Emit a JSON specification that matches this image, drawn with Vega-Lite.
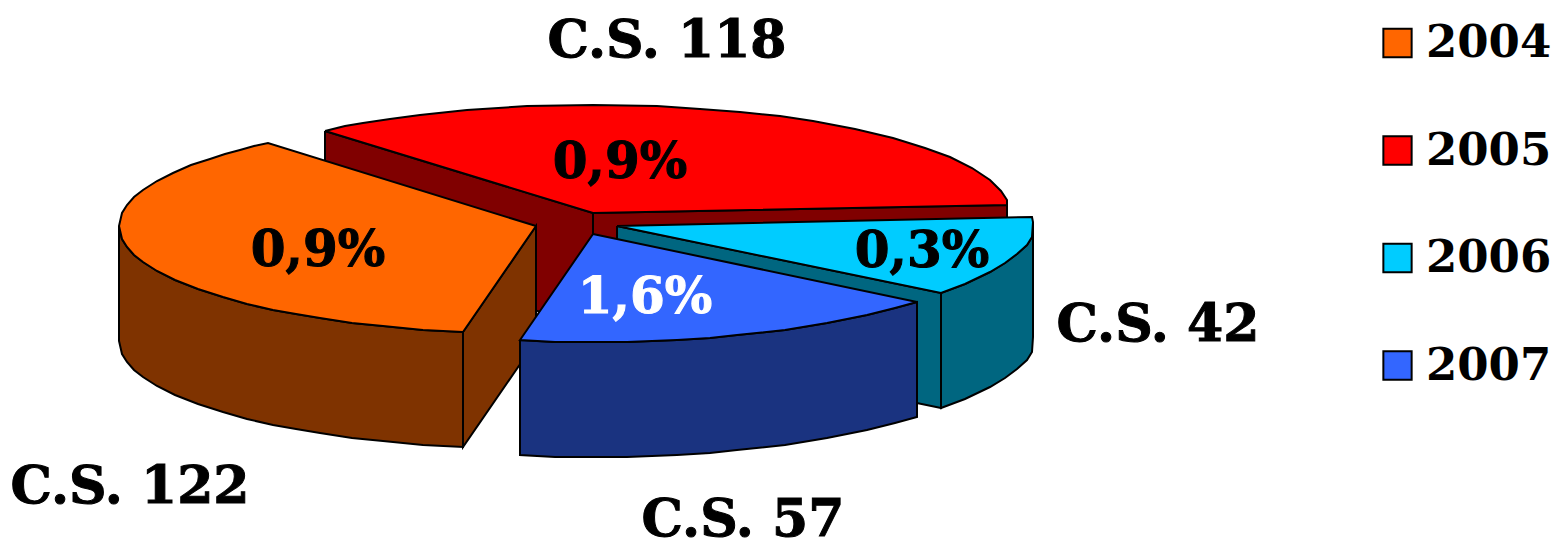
{
"$schema":"https://vega.github.io/schema/vega-lite/v6.json",
"width":1559,"height":548,"padding":0,"autosize":{"type":"none"},
"background":"white",
"view":{"stroke":null},
"datasets":{
"outline":[
{"piece":"red-left","i":0,"x":325,"y":131},{"piece":"red-left","i":1,"x":593,"y":213},{"piece":"red-left","i":2,"x":593,"y":328},{"piece":"red-left","i":3,"x":325,"y":246},{"piece":"red-left","i":4,"x":325,"y":131},
{"piece":"red-right","i":0,"x":593,"y":213},{"piece":"red-right","i":1,"x":1007,"y":205},{"piece":"red-right","i":2,"x":1007,"y":320},{"piece":"red-right","i":3,"x":593,"y":328},{"piece":"red-right","i":4,"x":593,"y":213},
{"piece":"red-top","year":"2005","i":0,"x":325,"y":131},{"piece":"red-top","year":"2005","i":1,"x":345,"y":126},{"piece":"red-top","year":"2005","i":2,"x":363,"y":123},{"piece":"red-top","year":"2005","i":3,"x":390,"y":119},{"piece":"red-top","year":"2005","i":4,"x":420,"y":115},{"piece":"red-top","year":"2005","i":5,"x":467,"y":110},{"piece":"red-top","year":"2005","i":6,"x":527,"y":106},{"piece":"red-top","year":"2005","i":7,"x":593,"y":105},{"piece":"red-top","year":"2005","i":8,"x":657,"y":106},{"piece":"red-top","year":"2005","i":9,"x":700,"y":109},{"piece":"red-top","year":"2005","i":10,"x":740,"y":112},{"piece":"red-top","year":"2005","i":11,"x":780,"y":116},{"piece":"red-top","year":"2005","i":12,"x":813,"y":121},{"piece":"red-top","year":"2005","i":13,"x":855,"y":129},{"piece":"red-top","year":"2005","i":14,"x":893,"y":138},{"piece":"red-top","year":"2005","i":15,"x":925,"y":148},{"piece":"red-top","year":"2005","i":16,"x":950,"y":157},{"piece":"red-top","year":"2005","i":17,"x":972,"y":168},{"piece":"red-top","year":"2005","i":18,"x":990,"y":180},{"piece":"red-top","year":"2005","i":19,"x":1001,"y":191},{"piece":"red-top","year":"2005","i":20,"x":1007,"y":200},{"piece":"red-top","year":"2005","i":21,"x":1007,"y":205},{"piece":"red-top","year":"2005","i":22,"x":593,"y":213},{"piece":"red-top","year":"2005","i":23,"x":325,"y":131},
{"piece":"cyan-strip","i":0,"x":617,"y":226},{"piece":"cyan-strip","i":1,"x":941,"y":293},{"piece":"cyan-strip","i":2,"x":941,"y":408},{"piece":"cyan-strip","i":3,"x":617,"y":341},{"piece":"cyan-strip","i":4,"x":617,"y":226},
{"piece":"cyan-outer","i":0,"x":941,"y":293},{"piece":"cyan-outer","i":1,"x":965,"y":284},{"piece":"cyan-outer","i":2,"x":990,"y":272},{"piece":"cyan-outer","i":3,"x":1005,"y":263},{"piece":"cyan-outer","i":4,"x":1017,"y":254},{"piece":"cyan-outer","i":5,"x":1027,"y":245},{"piece":"cyan-outer","i":6,"x":1032,"y":237},{"piece":"cyan-outer","i":7,"x":1033,"y":222},{"piece":"cyan-outer","i":8,"x":1033,"y":337},{"piece":"cyan-outer","i":9,"x":1032,"y":352},{"piece":"cyan-outer","i":10,"x":1027,"y":360},{"piece":"cyan-outer","i":11,"x":1017,"y":369},{"piece":"cyan-outer","i":12,"x":1005,"y":378},{"piece":"cyan-outer","i":13,"x":990,"y":387},{"piece":"cyan-outer","i":14,"x":965,"y":399},{"piece":"cyan-outer","i":15,"x":941,"y":408},{"piece":"cyan-outer","i":16,"x":941,"y":293},
{"piece":"cyan-top","year":"2006","i":0,"x":617,"y":226},{"piece":"cyan-top","year":"2006","i":1,"x":1032,"y":217},{"piece":"cyan-top","year":"2006","i":2,"x":1033,"y":222},{"piece":"cyan-top","year":"2006","i":3,"x":1032,"y":237},{"piece":"cyan-top","year":"2006","i":4,"x":1027,"y":245},{"piece":"cyan-top","year":"2006","i":5,"x":1017,"y":254},{"piece":"cyan-top","year":"2006","i":6,"x":1005,"y":263},{"piece":"cyan-top","year":"2006","i":7,"x":990,"y":272},{"piece":"cyan-top","year":"2006","i":8,"x":965,"y":284},{"piece":"cyan-top","year":"2006","i":9,"x":941,"y":293},{"piece":"cyan-top","year":"2006","i":10,"x":617,"y":226},
{"piece":"orange-right","i":0,"x":463,"y":332},{"piece":"orange-right","i":1,"x":536,"y":226},{"piece":"orange-right","i":2,"x":536,"y":341},{"piece":"orange-right","i":3,"x":463,"y":447},{"piece":"orange-right","i":4,"x":463,"y":332},
{"piece":"orange-outer","i":0,"x":119,"y":226},{"piece":"orange-outer","i":1,"x":122,"y":239},{"piece":"orange-outer","i":2,"x":127,"y":247},{"piece":"orange-outer","i":3,"x":134,"y":255},{"piece":"orange-outer","i":4,"x":143,"y":262},{"piece":"orange-outer","i":5,"x":157,"y":271},{"piece":"orange-outer","i":6,"x":175,"y":280},{"piece":"orange-outer","i":7,"x":198,"y":289},{"piece":"orange-outer","i":8,"x":223,"y":297},{"piece":"orange-outer","i":9,"x":247,"y":304},{"piece":"orange-outer","i":10,"x":273,"y":310},{"piece":"orange-outer","i":11,"x":296,"y":314},{"piece":"orange-outer","i":12,"x":320,"y":318},{"piece":"orange-outer","i":13,"x":352,"y":323},{"piece":"orange-outer","i":14,"x":383,"y":326},{"piece":"orange-outer","i":15,"x":423,"y":330},{"piece":"orange-outer","i":16,"x":463,"y":332},{"piece":"orange-outer","i":17,"x":463,"y":447},{"piece":"orange-outer","i":18,"x":423,"y":445},{"piece":"orange-outer","i":19,"x":383,"y":441},{"piece":"orange-outer","i":20,"x":352,"y":438},{"piece":"orange-outer","i":21,"x":320,"y":433},{"piece":"orange-outer","i":22,"x":296,"y":429},{"piece":"orange-outer","i":23,"x":273,"y":425},{"piece":"orange-outer","i":24,"x":247,"y":419},{"piece":"orange-outer","i":25,"x":223,"y":412},{"piece":"orange-outer","i":26,"x":198,"y":404},{"piece":"orange-outer","i":27,"x":175,"y":395},{"piece":"orange-outer","i":28,"x":157,"y":386},{"piece":"orange-outer","i":29,"x":143,"y":377},{"piece":"orange-outer","i":30,"x":134,"y":370},{"piece":"orange-outer","i":31,"x":127,"y":362},{"piece":"orange-outer","i":32,"x":122,"y":354},{"piece":"orange-outer","i":33,"x":119,"y":341},{"piece":"orange-outer","i":34,"x":119,"y":226},
{"piece":"orange-top","year":"2004","i":0,"x":536,"y":226},{"piece":"orange-top","year":"2004","i":1,"x":268,"y":143},{"piece":"orange-top","year":"2004","i":2,"x":254,"y":146},{"piece":"orange-top","year":"2004","i":3,"x":240,"y":150},{"piece":"orange-top","year":"2004","i":4,"x":225,"y":154},{"piece":"orange-top","year":"2004","i":5,"x":210,"y":159},{"piece":"orange-top","year":"2004","i":6,"x":191,"y":165},{"piece":"orange-top","year":"2004","i":7,"x":173,"y":173},{"piece":"orange-top","year":"2004","i":8,"x":157,"y":181},{"piece":"orange-top","year":"2004","i":9,"x":143,"y":190},{"piece":"orange-top","year":"2004","i":10,"x":134,"y":197},{"piece":"orange-top","year":"2004","i":11,"x":127,"y":205},{"piece":"orange-top","year":"2004","i":12,"x":122,"y":213},{"piece":"orange-top","year":"2004","i":13,"x":119,"y":226},{"piece":"orange-top","year":"2004","i":14,"x":122,"y":239},{"piece":"orange-top","year":"2004","i":15,"x":127,"y":247},{"piece":"orange-top","year":"2004","i":16,"x":134,"y":255},{"piece":"orange-top","year":"2004","i":17,"x":143,"y":262},{"piece":"orange-top","year":"2004","i":18,"x":157,"y":271},{"piece":"orange-top","year":"2004","i":19,"x":175,"y":280},{"piece":"orange-top","year":"2004","i":20,"x":198,"y":289},{"piece":"orange-top","year":"2004","i":21,"x":223,"y":297},{"piece":"orange-top","year":"2004","i":22,"x":247,"y":304},{"piece":"orange-top","year":"2004","i":23,"x":273,"y":310},{"piece":"orange-top","year":"2004","i":24,"x":296,"y":314},{"piece":"orange-top","year":"2004","i":25,"x":320,"y":318},{"piece":"orange-top","year":"2004","i":26,"x":352,"y":323},{"piece":"orange-top","year":"2004","i":27,"x":383,"y":326},{"piece":"orange-top","year":"2004","i":28,"x":423,"y":330},{"piece":"orange-top","year":"2004","i":29,"x":463,"y":332},{"piece":"orange-top","year":"2004","i":30,"x":536,"y":226},
{"piece":"blue-outer","i":0,"x":520,"y":340},{"piece":"blue-outer","i":1,"x":555,"y":342},{"piece":"blue-outer","i":2,"x":593,"y":342},{"piece":"blue-outer","i":3,"x":627,"y":342},{"piece":"blue-outer","i":4,"x":677,"y":340},{"piece":"blue-outer","i":5,"x":710,"y":338},{"piece":"blue-outer","i":6,"x":737,"y":335},{"piece":"blue-outer","i":7,"x":785,"y":330},{"piece":"blue-outer","i":8,"x":827,"y":323},{"piece":"blue-outer","i":9,"x":867,"y":315},{"piece":"blue-outer","i":10,"x":895,"y":308},{"piece":"blue-outer","i":11,"x":917,"y":302},{"piece":"blue-outer","i":12,"x":917,"y":417},{"piece":"blue-outer","i":13,"x":895,"y":423},{"piece":"blue-outer","i":14,"x":867,"y":430},{"piece":"blue-outer","i":15,"x":827,"y":438},{"piece":"blue-outer","i":16,"x":785,"y":445},{"piece":"blue-outer","i":17,"x":737,"y":450},{"piece":"blue-outer","i":18,"x":710,"y":453},{"piece":"blue-outer","i":19,"x":677,"y":455},{"piece":"blue-outer","i":20,"x":627,"y":457},{"piece":"blue-outer","i":21,"x":593,"y":457},{"piece":"blue-outer","i":22,"x":555,"y":457},{"piece":"blue-outer","i":23,"x":520,"y":455},{"piece":"blue-outer","i":24,"x":520,"y":340},
{"piece":"blue-top","year":"2007","i":0,"x":593,"y":234},{"piece":"blue-top","year":"2007","i":1,"x":917,"y":302},{"piece":"blue-top","year":"2007","i":2,"x":895,"y":308},{"piece":"blue-top","year":"2007","i":3,"x":867,"y":315},{"piece":"blue-top","year":"2007","i":4,"x":827,"y":323},{"piece":"blue-top","year":"2007","i":5,"x":785,"y":330},{"piece":"blue-top","year":"2007","i":6,"x":737,"y":335},{"piece":"blue-top","year":"2007","i":7,"x":710,"y":338},{"piece":"blue-top","year":"2007","i":8,"x":677,"y":340},{"piece":"blue-top","year":"2007","i":9,"x":627,"y":342},{"piece":"blue-top","year":"2007","i":10,"x":593,"y":342},{"piece":"blue-top","year":"2007","i":11,"x":555,"y":342},{"piece":"blue-top","year":"2007","i":12,"x":520,"y":340},{"piece":"blue-top","year":"2007","i":13,"x":593,"y":234}
],
"centres":[
{"label":"C.S. 118","x":667,"y":57},
{"label":"C.S. 42","x":1158,"y":341},
{"label":"C.S. 122","x":130,"y":503},
{"label":"C.S. 57","x":743,"y":536}
],
"values":[
{"label":"0,9%","x":620,"y":178,"tone":"dark"},
{"label":"0,9%","x":318,"y":266,"tone":"dark"},
{"label":"0,3%","x":922,"y":267,"tone":"dark"},
{"label":"1,6%","x":645,"y":313,"tone":"light"}
]},
"encoding":{
"x":{"field":"x","type":"quantitative","scale":{"domain":[0,1559],"range":[0,1559]},"axis":null},
"y":{"field":"y","type":"quantitative","scale":{"domain":[0,548],"range":[0,548]},"axis":null}
},
"layer":[
{"data":{"name":"outline"},"transform":[{"filter":"datum.piece==='red-left'||datum.piece==='red-right'"}],
 "mark":{"type":"line","fill":"#800000","stroke":"black","strokeWidth":2,"strokeJoin":"miter"},
 "encoding":{"detail":{"field":"piece"},"order":{"field":"i","type":"quantitative"}}},
{"data":{"name":"outline"},"transform":[{"filter":"datum.piece==='red-top'"}],
 "mark":{"type":"line","stroke":"black","strokeWidth":2,"strokeJoin":"miter"},
 "encoding":{"fill":{"field":"year","type":"nominal"},"order":{"field":"i","type":"quantitative"}}},
{"data":{"name":"outline"},"transform":[{"filter":"datum.piece==='cyan-strip'||datum.piece==='cyan-outer'"}],
 "mark":{"type":"line","fill":"#006680","stroke":"black","strokeWidth":2,"strokeJoin":"miter"},
 "encoding":{"detail":{"field":"piece"},"order":{"field":"i","type":"quantitative"}}},
{"data":{"name":"outline"},"transform":[{"filter":"datum.piece==='cyan-top'"}],
 "mark":{"type":"line","stroke":"black","strokeWidth":2,"strokeJoin":"miter"},
 "encoding":{"fill":{"field":"year","type":"nominal"},"order":{"field":"i","type":"quantitative"}}},
{"data":{"name":"outline"},"transform":[{"filter":"datum.piece==='orange-right'||datum.piece==='orange-outer'"}],
 "mark":{"type":"line","fill":"#7F3300","stroke":"black","strokeWidth":2,"strokeJoin":"miter"},
 "encoding":{"detail":{"field":"piece"},"order":{"field":"i","type":"quantitative"}}},
{"data":{"name":"outline"},"transform":[{"filter":"datum.piece==='orange-top'"}],
 "mark":{"type":"line","stroke":"black","strokeWidth":2,"strokeJoin":"miter"},
 "encoding":{"fill":{"field":"year","type":"nominal"},"order":{"field":"i","type":"quantitative"}}},
{"data":{"name":"outline"},"transform":[{"filter":"datum.piece==='blue-outer'"}],
 "mark":{"type":"line","fill":"#1A3380","stroke":"black","strokeWidth":2,"strokeJoin":"miter"},
 "encoding":{"detail":{"field":"piece"},"order":{"field":"i","type":"quantitative"}}},
{"data":{"name":"outline"},"transform":[{"filter":"datum.piece==='blue-top'"}],
 "mark":{"type":"line","stroke":"black","strokeWidth":2,"strokeJoin":"miter"},
 "encoding":{"fill":{"field":"year","type":"nominal","scale":{"domain":["2004","2005","2006","2007"],"range":["#FF6600","#FF0000","#00CCFF","#3366FF"]},
  "legend":{"title":null,"orient":"none","legendX":1375,"legendY":20,"symbolType":"square","symbolSize":800,"symbolStrokeColor":"black","symbolStrokeWidth":2,"labelFont":"DejaVu Serif","labelFontWeight":"bold","labelFontSize":45,"labelColor":"black","labelOffset":6,"rowPadding":61.5,"labelLimit":200,"clipHeight":46}},
  "order":{"field":"i","type":"quantitative"}}},
{"data":{"name":"centres"},
 "mark":{"type":"text","font":"DejaVu Serif","fontWeight":"bold","fontSize":52,"align":"center","baseline":"alphabetic","color":"black","stroke":"black","strokeWidth":1},
 "encoding":{"text":{"field":"label"}}},
{"data":{"name":"values"},
 "mark":{"type":"text","font":"DejaVu Serif","fontWeight":"bold","fontSize":50,"align":"center","baseline":"alphabetic","strokeWidth":1},
 "encoding":{"text":{"field":"label"},
  "color":{"field":"tone","type":"nominal","scale":{"domain":["dark","light"],"range":["black","white"]},"legend":null},
  "stroke":{"field":"tone","type":"nominal","scale":{"domain":["dark","light"],"range":["black","white"]},"legend":null}}}
]
}
